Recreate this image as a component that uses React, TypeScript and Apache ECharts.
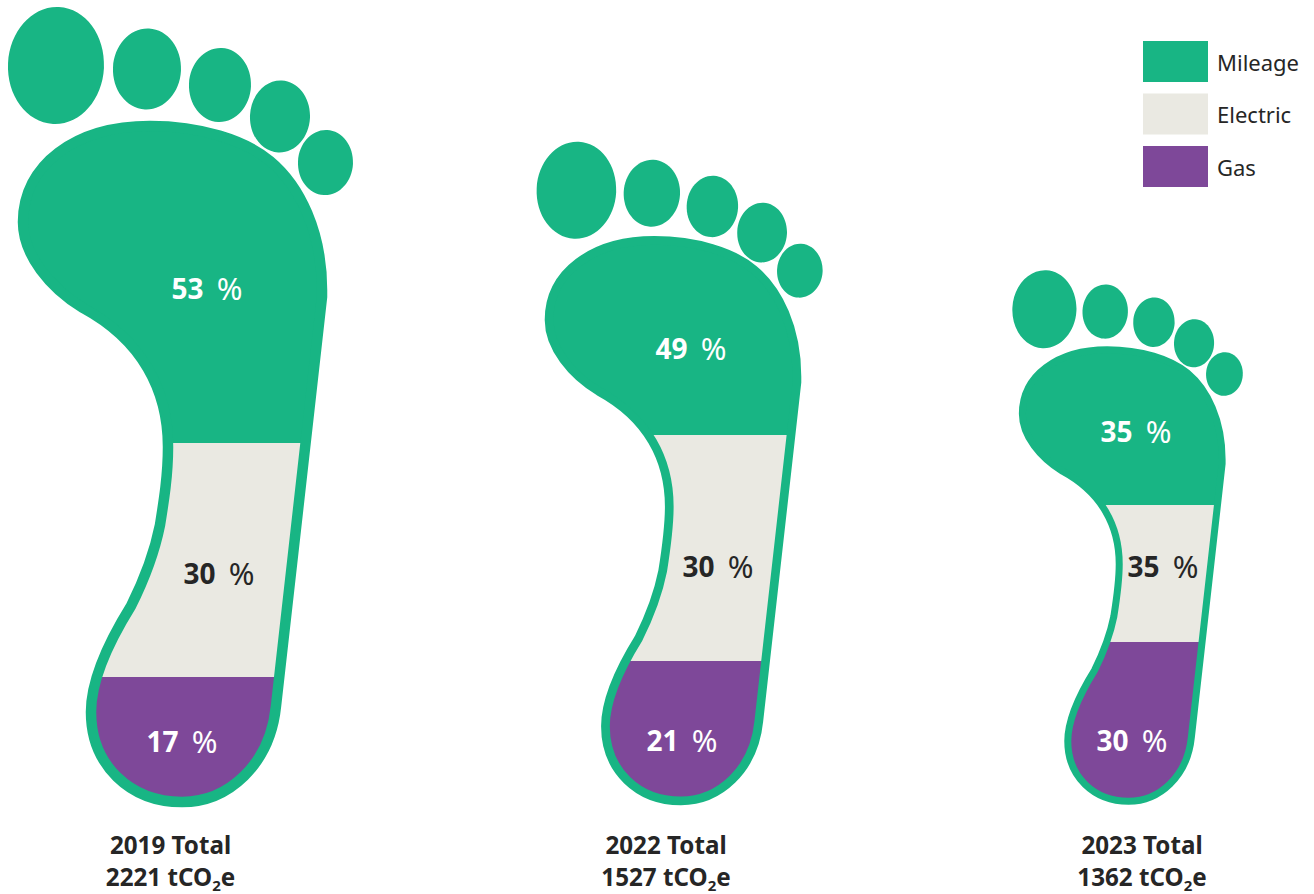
import React, { useEffect, useRef } from "react";
import * as echarts from "echarts";

const years = ["2019", "2022", "2023"];
const totals = [2221, 1527, 1362];
const mileage = [53, 49, 35];
const electric = [30, 30, 35];
const gas = [17, 21, 30];

// y-axis positions at which each footprint changes band
const electricTop = [443, 435, 505];
const gasTop = [677, 661, 642];

// footprint placement (axis position of the drawing's origin, size factor)
const originX = [0, 530, 1007];
const originY = [0, 136, 265.5];
const footScale = [1, 0.829, 0.668];

const mileageLabelX = [207, 691, 1136];
const mileageLabelY = [288, 348, 431];
const electricLabelX = [219, 718, 1163];
const electricLabelY = [573, 566, 566];
const gasLabelX = [182, 682, 1132];
const gasLabelY = [741, 740, 740];
const totalLabelX = [170.5, 666, 1142];
const totalLabelY = [860, 860, 860];

const GREEN = "#18B584";
const LIGHT = "#EAE9E2";
const PURPLE = "#7E4899";
const INK = "#262626";
const FONT = '"Noto Sans", sans-serif';

const FOOT_PATH =
  "M150 126 C200 126 245 140 270 161 C300 186 322 232 322 290 L322 297 L276 706 " +
  "C270 765 228 802 182 802 C130 802 91 765 91 712 C91 680 108 643 131 606 " +
  "C145 578 155 550 160 525 C164 500 168 475 168 447 C168 390 142 340 83 308 " +
  "C50 288 23 255 23 222 C23 165 75 126 150 126 Z";

const toes = [
  { cx: 56, cy: 65.5, rx: 48, ry: 58.5 },
  { cx: 147, cy: 69, rx: 34, ry: 40.5 },
  { cx: 220, cy: 85, rx: 31, ry: 37 },
  { cx: 280, cy: 116.5, rx: 30, ry: 36 },
  { cx: 325.5, cy: 162.5, rx: 27.5, ry: 32.5 },
];

const bandRows = (from: number[], to: number[], shares: number[]) =>
  years.map((_, i) => [originX[i], originY[i], footScale[i], from[i], to[i], shares[i]]);

const renderBand = (color: string) => (_p: any, api: any) => {
  const o = api.coord([api.value(0), api.value(1)]);
  const s = api.value(2);
  const top = (api.coord([0, api.value(3)])[1] - o[1]) / s;
  const bottom = (api.coord([0, api.value(4)])[1] - o[1]) / s;
  return {
    type: "group",
    x: o[0],
    y: o[1],
    scaleX: s,
    scaleY: s,
    children: [
      {
        type: "path",
        shape: { pathData: FOOT_PATH },
        style: { fill: color },
        clipPath: { type: "rect", shape: { x: 0, y: top, width: 400, height: bottom - top } },
      },
    ],
  };
};

const renderOutline = (_p: any, api: any) => {
  const o = api.coord([api.value(0), api.value(1)]);
  const s = api.value(2);
  return {
    type: "group",
    x: o[0],
    y: o[1],
    scaleX: s,
    scaleY: s,
    children: [
      {
        type: "path",
        shape: { pathData: FOOT_PATH },
        style: { fill: "none", stroke: GREEN, lineWidth: 10.5 },
      },
      ...toes.map((t) => ({
        type: "ellipse",
        x: t.cx,
        y: t.cy,
        rotation: -0.05,
        shape: { cx: 0, cy: 0, rx: t.rx, ry: t.ry },
        style: { fill: GREEN },
      })),
    ],
  };
};

const renderShare = (_p: any, api: any) => {
  const c = api.coord([api.value(0), api.value(1)]);
  const color = api.value(3) ? INK : "#FFFFFF";
  return {
    type: "text",
    x: c[0],
    y: c[1],
    style: {
      text: `{n|${api.value(2)} }{p|%}`,
      fill: color,
      align: "center",
      verticalAlign: "middle",
      rich: {
        n: { fontFamily: FONT, fontWeight: "bold", fontSize: 28, fill: color, lineHeight: 32 },
        p: {
          fontFamily: FONT,
          fontWeight: "normal",
          fontSize: 31,
          fill: color,
          lineHeight: 32,
          padding: [0, 0, 0, 6],
        },
      },
    },
  };
};

const renderTotal = (p: any, api: any) => {
  const c = api.coord([api.value(0), api.value(1)]);
  const i = p.dataIndex;
  return {
    type: "text",
    x: c[0],
    y: c[1],
    style: {
      text: `{a|${years[i]} Total}\n{a|${totals[i]} tCO}{s|2}{a|e}`,
      align: "center",
      verticalAlign: "middle",
      fill: INK,
      rich: {
        a: { fontFamily: FONT, fontWeight: "bold", fontSize: 24.2, lineHeight: 32, fill: INK },
        s: {
          fontFamily: FONT,
          fontWeight: "bold",
          fontSize: 15,
          lineHeight: 20,
          verticalAlign: "bottom",
          fill: INK,
        },
      },
    },
  };
};

const shareRows = [
  ...years.map((_, i) => [mileageLabelX[i], mileageLabelY[i], mileage[i], 0]),
  ...years.map((_, i) => [electricLabelX[i], electricLabelY[i], electric[i], 1]),
  ...years.map((_, i) => [gasLabelX[i], gasLabelY[i], gas[i], 0]),
];

export default function App() {
  const ref = useRef<HTMLDivElement>(null);
  useEffect(() => {
    const chart = echarts.init(ref.current!, undefined, { renderer: "svg" });
    const band = (name: string, color: string, from: number[], to: number[], shares: number[]) => ({
      type: "custom",
      name,
      z: 2,
      clip: false,
      coordinateSystem: "cartesian2d",
      itemStyle: { color },
      encode: { x: 0, y: 1 },
      renderItem: renderBand(color),
      data: bandRows(from, to, shares),
      silent: true,
    });
    const zeros = years.map(() => 0);
    const ends = years.map(() => 894);
    chart.setOption({
      animation: false,
      backgroundColor: "#FFFFFF",
      grid: { left: 0, right: 0, top: 0, bottom: 0 },
      xAxis: { type: "value", min: 0, max: 1314, show: false },
      yAxis: { type: "value", min: 0, max: 894, inverse: true, show: false },
      legend: {
        left: 1143,
        top: 41,
        padding: 0,
        orient: "vertical",
        icon: "rect",
        itemWidth: 65,
        itemHeight: 41,
        itemGap: 11.5,
        selectedMode: false,
        data: ["Mileage", "Electric", "Gas"],
        textStyle: { color: INK, fontFamily: FONT, fontSize: 22, padding: [0, 0, 3, 4] },
      },
      series: [
        band("Mileage", GREEN, zeros, electricTop, mileage),
        band("Electric", LIGHT, electricTop, gasTop, electric),
        band("Gas", PURPLE, gasTop, ends, gas),
        {
          type: "custom",
          name: "Outline",
          z: 3,
          clip: false,
          silent: true,
          encode: { x: 0, y: 1 },
          renderItem: renderOutline,
          data: years.map((_, i) => [originX[i], originY[i], footScale[i]]),
        },
        {
          type: "custom",
          name: "Share",
          z: 4,
          clip: false,
          silent: true,
          encode: { x: 0, y: 1 },
          renderItem: renderShare,
          data: shareRows,
        },
        {
          type: "custom",
          name: "Total",
          z: 4,
          clip: false,
          silent: true,
          encode: { x: 0, y: 1 },
          renderItem: renderTotal,
          data: years.map((_, i) => [totalLabelX[i], totalLabelY[i]]),
        },
      ],
    });
    return () => chart.dispose();
  }, []);
  return (
    <div
      ref={ref}
      style={{ position: "fixed", left: 0, top: 0, width: 1314, height: 894 }}
    />
  );
}
